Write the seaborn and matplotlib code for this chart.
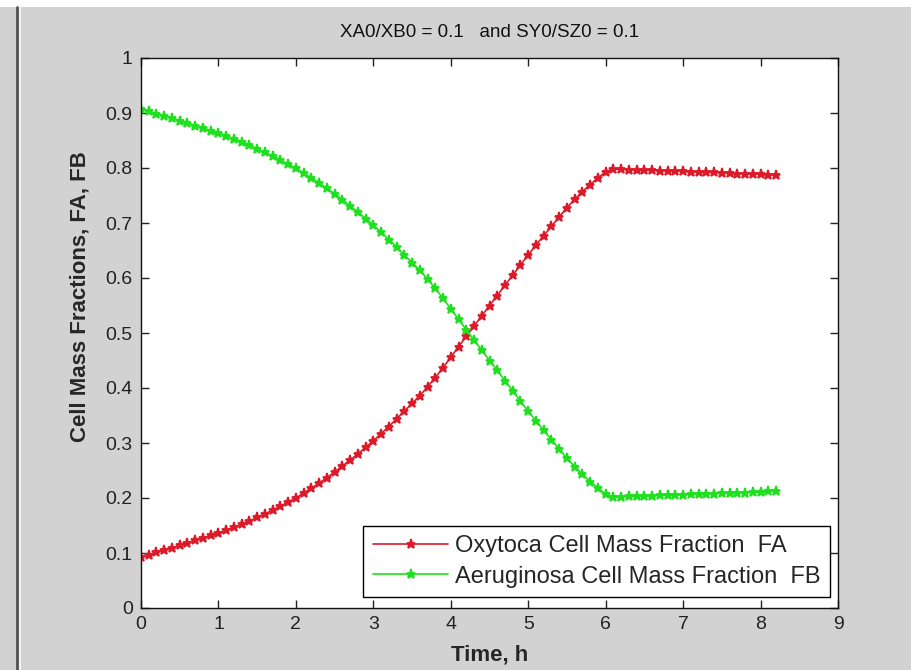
import matplotlib
matplotlib.use("Agg")
import matplotlib.pyplot as plt
import seaborn as sns
import pandas as pd
from matplotlib.lines import Line2D
from matplotlib.patches import Rectangle

# -------------------------------------------------------
# Data (time in h, mass fractions)
# -------------------------------------------------------
time_h = [
    0.0, 0.1, 0.2, 0.3, 0.4, 0.5, 0.6, 0.7, 0.8, 0.9,
    1.0, 1.1, 1.2, 1.3, 1.4, 1.5, 1.6, 1.7, 1.8, 1.9,
    2.0, 2.1, 2.2, 2.3, 2.4, 2.5, 2.6, 2.7, 2.8, 2.9,
    3.0, 3.1, 3.2, 3.3, 3.4, 3.5, 3.6, 3.7, 3.8, 3.9,
    4.0, 4.1, 4.2, 4.3, 4.4, 4.5, 4.6, 4.7, 4.8, 4.9,
    5.0, 5.1, 5.2, 5.3, 5.4, 5.5, 5.6, 5.7, 5.8, 5.9,
    6.0, 6.1, 6.2, 6.3, 6.4, 6.5, 6.6, 6.7, 6.8, 6.9,
    7.0, 7.1, 7.2, 7.3, 7.4, 7.5, 7.6, 7.7, 7.8, 7.9,
    8.0, 8.1, 8.2,
]

fa_oxytoca = [
    0.092, 0.097, 0.101, 0.105, 0.109, 0.114, 0.118, 0.123, 0.127, 0.132,
    0.136, 0.141, 0.147, 0.152, 0.158, 0.165, 0.171, 0.178, 0.185, 0.193,
    0.200, 0.209, 0.218, 0.227, 0.237, 0.247, 0.258, 0.269, 0.280, 0.292,
    0.304, 0.317, 0.330, 0.344, 0.358, 0.372, 0.386, 0.402, 0.419, 0.437,
    0.456, 0.475, 0.494, 0.513, 0.531, 0.550, 0.568, 0.587, 0.605, 0.624,
    0.642, 0.660, 0.677, 0.694, 0.711, 0.728, 0.743, 0.757, 0.770, 0.782,
    0.793, 0.798, 0.798, 0.797, 0.797, 0.796, 0.796, 0.795, 0.795, 0.794,
    0.794, 0.793, 0.793, 0.792, 0.792, 0.791, 0.791, 0.790, 0.790, 0.789,
    0.789, 0.788, 0.788,
]

fb_aeruginosa = [
    0.908, 0.903, 0.899, 0.895, 0.891, 0.886, 0.882, 0.877, 0.873, 0.868,
    0.864, 0.859, 0.853, 0.848, 0.842, 0.835, 0.829, 0.822, 0.815, 0.807,
    0.800, 0.791, 0.782, 0.773, 0.763, 0.753, 0.742, 0.731, 0.720, 0.708,
    0.696, 0.683, 0.670, 0.656, 0.642, 0.628, 0.614, 0.598, 0.581, 0.563,
    0.544, 0.525, 0.506, 0.487, 0.469, 0.450, 0.432, 0.413, 0.395, 0.376,
    0.358, 0.340, 0.323, 0.306, 0.289, 0.272, 0.257, 0.243, 0.230, 0.218,
    0.207, 0.202, 0.202, 0.203, 0.203, 0.204, 0.204, 0.205, 0.205, 0.206,
    0.206, 0.207, 0.207, 0.208, 0.208, 0.209, 0.209, 0.210, 0.210, 0.211,
    0.211, 0.212, 0.212,
]

labels = ["Oxytoca Cell Mass Fraction  FA", "Aeruginosa Cell Mass Fraction  FB"]
colors = ["#dd1a2a", "#1ee01e"]

df = pd.DataFrame({"t": time_h, "FA": fa_oxytoca, "FB": fb_aeruginosa})

# -------------------------------------------------------
# Figure setup (MATLAB-like window)
# -------------------------------------------------------
sns.set_style("ticks")
plt.rcParams["font.family"] = ["Liberation Sans", "DejaVu Sans"]

fig = plt.figure(figsize=(9.11, 6.70), dpi=100)
fig.patch.set_facecolor("#d2d2d2")

# white strip at the top and the window border lines on the left
fig.patches.append(Rectangle((0, 1 - 7 / 670), 1, 7 / 670, transform=fig.transFigure,
                             facecolor="white", edgecolor="none", zorder=0))
fig.lines.append(Line2D([17 / 911, 17 / 911], [0, 1 - 7 / 670], transform=fig.transFigure,
                        color="#505050", lw=2.0))
fig.lines.append(Line2D([20 / 911, 20 / 911], [0, 1 - 7 / 670], transform=fig.transFigure,
                        color="#f4f4f4", lw=1.5))

ax = fig.add_axes([141 / 911, 62 / 670, 697 / 911, 550 / 670])
ax.set_facecolor("white")

sns.lineplot(data=df, x="t", y="FA", ax=ax, color=colors[0], lw=1.2,
             marker="*", markersize=6.5, markeredgewidth=1.3, markeredgecolor=colors[0],
             label=labels[0])
sns.lineplot(data=df, x="t", y="FB", ax=ax, color=colors[1], lw=1.2,
             marker="*", markersize=6.5, markeredgewidth=1.3, markeredgecolor=colors[1],
             label=labels[1])

ax.set_xlim(0, 9)
ax.set_ylim(0, 1)
ax.set_xticks(range(0, 10))
ax.set_yticks([0, 0.1, 0.2, 0.3, 0.4, 0.5, 0.6, 0.7, 0.8, 0.9, 1])
ax.set_yticklabels(["0", "0.1", "0.2", "0.3", "0.4", "0.5", "0.6", "0.7", "0.8", "0.9", "1"])
ax.tick_params(direction="in", length=6, width=1, top=True, right=True,
               labelsize=14, colors="#222222", pad=6)
for side in ax.spines.values():
    side.set_visible(True)
    side.set_color("#111111")
    side.set_linewidth(1.0)

ax.set_title("XA0/XB0 = 0.1   and SY0/SZ0 = 0.1", fontsize=13.5, pad=15, color="#111111")
ax.set_xlabel("Time, h", fontsize=16, fontweight="bold")
ax.set_ylabel("Cell Mass Fractions, FA, FB", fontsize=16, fontweight="bold")
ax.xaxis.set_label_coords(0.5, -0.066)
ax.yaxis.set_label_coords(-0.072, 0.567)

leg = ax.legend(loc="lower right", bbox_to_anchor=(0.989, 0.02), borderaxespad=0,
                fontsize=17, frameon=True, fancybox=False, framealpha=1,
                edgecolor="black", handlelength=3.2, handletextpad=0.3,
                borderpad=0.4, labelspacing=0.35)
leg.get_frame().set_linewidth(1.0)

fig.savefig("out.png", dpi=100, facecolor=fig.get_facecolor())
